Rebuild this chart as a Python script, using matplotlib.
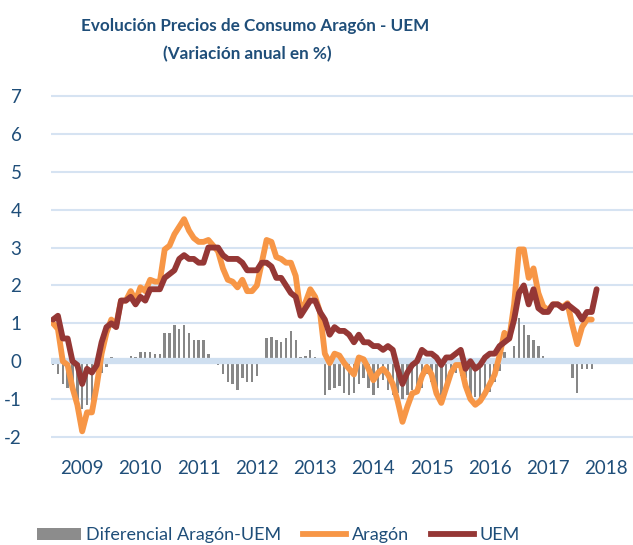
import matplotlib.pyplot as plt
from matplotlib.patches import Patch
from matplotlib.lines import Line2D
import numpy as np

plt.rcParams['font.family'] = ['Lato', 'DejaVu Sans']

# monthly annual rates, Jan 2009 onwards
uem = [1.1, 1.2, 0.6, 0.6, 0.0, -0.1, -0.6, -0.2, -0.3, -0.1, 0.5, 0.9,
       1.0, 0.9, 1.6, 1.6, 1.7, 1.5, 1.7, 1.6, 1.9, 1.9, 1.9, 2.2,
       2.3, 2.4, 2.7, 2.8, 2.7, 2.7, 2.6, 2.6, 3.0, 3.0, 3.0, 2.8,
       2.7, 2.7, 2.7, 2.6, 2.4, 2.4, 2.4, 2.6, 2.6, 2.5, 2.2, 2.2,
       2.0, 1.8, 1.7, 1.2, 1.4, 1.6, 1.6, 1.3, 1.1, 0.7, 0.9, 0.8,
       0.8, 0.7, 0.5, 0.7, 0.5, 0.5, 0.4, 0.4, 0.3, 0.4, 0.3, -0.2,
       -0.6, -0.3, -0.1, 0.0, 0.3, 0.2, 0.2, 0.1, -0.1, 0.1, 0.1, 0.2,
       0.3, -0.2, 0.0, -0.2, -0.1, 0.1, 0.2, 0.2, 0.4, 0.5, 0.6, 1.1,
       1.8, 2.0, 1.5, 1.9, 1.4, 1.3, 1.3, 1.5, 1.5, 1.4, 1.5, 1.4,
       1.3, 1.1, 1.3, 1.3, 1.9]

aragon = [1.0, 0.85, 0.0, -0.1, -0.7, -1.15, -1.85, -1.35, -1.35, -0.65, 0.2, 0.75,
          1.1, 0.95, 1.6, 1.6, 1.85, 1.6, 1.95, 1.85, 2.15, 2.1, 2.1, 2.95,
          3.05, 3.35, 3.55, 3.75, 3.45, 3.25, 3.15, 3.15, 3.2, 3.05, 2.9, 2.45,
          2.15, 2.1, 1.95, 2.15, 1.85, 1.85, 2.0, 2.6, 3.2, 3.15, 2.75, 2.7,
          2.6, 2.6, 2.25, 1.3, 1.55, 1.9, 1.7, 1.3, 0.2, -0.05, 0.2, 0.15,
          -0.05, -0.2, -0.35, 0.1, 0.05, -0.2, -0.5, -0.3, -0.2, -0.35, -0.6, -1.05,
          -1.6, -1.2, -0.85, -0.8, -0.4, -0.15, -0.35, -0.85, -1.1, -0.7, -0.3, -0.1,
          -0.1, -0.65, -1.0, -1.15, -1.05, -0.85, -0.6, -0.35, 0.15, 0.75, 0.6, 1.5,
          2.95, 2.95, 2.2, 2.45, 1.8, 1.45, 1.35, 1.5, 1.5, 1.43, 1.53, 0.95,
          0.45, 0.9, 1.1, 1.1]

diferencial = [-0.1, -0.35, -0.6, -0.7, -0.7, -1.05, -1.25, -1.15, -1.05, -0.55, -0.3, -0.15,
               0.1, 0.05, 0.0, 0.0, 0.15, 0.1, 0.25, 0.25, 0.25, 0.2, 0.2, 0.75,
               0.75, 0.95, 0.85, 0.95, 0.75, 0.55, 0.55, 0.55, 0.2, 0.05, -0.1, -0.35,
               -0.55, -0.6, -0.75, -0.45, -0.55, -0.55, -0.4, 0.0, 0.6, 0.65, 0.55, 0.5,
               0.6, 0.8, 0.55, 0.1, 0.15, 0.3, 0.1, 0.0, -0.9, -0.75, -0.7, -0.65,
               -0.85, -0.9, -0.85, -0.6, -0.45, -0.7, -0.9, -0.7, -0.5, -0.75, -0.9, -0.85,
               -1.0, -0.9, -0.75, -0.8, -0.7, -0.35, -0.55, -0.95, -1.0, -0.8, -0.4, -0.3,
               -0.4, -0.45, -1.0, -0.95, -0.95, -0.95, -0.8, -0.55, -0.25, 0.25, 0.0, 0.4,
               1.15, 0.95, 0.7, 0.55, 0.4, 0.15, 0.05, 0.0, 0.0, 0.03, 0.03, -0.45,
               -0.85, -0.2, -0.2, -0.2]

years = ['2009', '2010', '2011', '2012', '2013', '2014', '2015', '2016', '2017', '2018']
yticks = list(range(-2, 8))

navy = '#1f4e79'
grid_col = '#d6e3f2'

fig = plt.figure(figsize=(6.33, 5.45), dpi=100)
ax = fig.add_axes([0.08, 0.1912, 0.92, 0.6396])

for v in yticks:
    if v == 0:
        continue
    ax.axhline(v, color=grid_col, lw=1.5, zorder=0)

ax.bar(np.arange(len(diferencial)), diferencial, width=0.5, color='#878787', zorder=1)
ax.axhline(0, color='#cfdff0', lw=4.5, zorder=2)
ax.plot(np.arange(len(aragon)), aragon, color='#f79646', lw=4.2,
        solid_joinstyle='round', solid_capstyle='round', zorder=3)
ax.plot(np.arange(len(uem)), uem, color='#953735', lw=4.2,
        solid_joinstyle='round', solid_capstyle='round', zorder=4)

ax.set_xlim(-0.5, 119.5)
ax.set_ylim(-2.1, 7.1)
ax.set_yticks(yticks)
ax.set_yticklabels([str(v) for v in yticks])   # plain hyphen like the original
ax.set_xticks([12 * k + 6 for k in range(len(years))])
ax.set_xticklabels(years)
ax.tick_params(length=0, labelsize=13.5, labelcolor=navy)
ax.tick_params(axis='y', pad=21)
ax.tick_params(axis='x', pad=14)
for s in ax.spines.values():
    s.set_visible(False)

fig.text(0.403, 0.952, 'Evolución Precios de Consumo Aragón - UEM', ha='center', va='center',
         fontsize=12.3, fontweight='bold', color=navy)
fig.text(0.39, 0.901, '(Variación anual en %)', ha='center', va='center',
         fontsize=12.3, fontweight='bold', color=navy)

handles = [Patch(facecolor='#8c8c8c'),
           Line2D([], [], color='#f79646', lw=4.2),
           Line2D([], [], color='#953735', lw=4.2)]
fig.legend(handles, ['Diferencial Aragón-UEM', 'Aragón', 'UEM'], loc='center',
           bbox_to_anchor=(0.44, 0.018), ncol=3, frameon=False, fontsize=13,
           labelcolor=navy, handlelength=2.4, handletextpad=0.3, columnspacing=1.2)

fig.savefig('out.png', dpi=100)
